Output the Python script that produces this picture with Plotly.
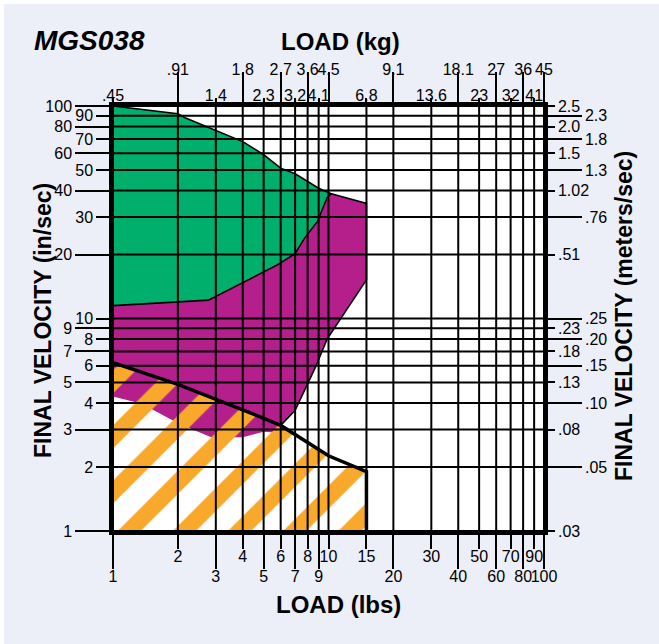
import plotly.graph_objects as go

# ---- tick rows -------------------------------------------------------------
# bottom axis, load in lbs (two staggered rows)
lbs_row_upper = [2, 4, 6, 8, 10, 15, 30, 50, 70, 90]
lbs_row_lower = [1, 3, 5, 7, 9, 20, 40, 60, 80, 100]

# top axis, load in kg (two staggered rows, positioned at the lbs values)
kg_row_upper_at = [2, 4, 6, 8, 10, 20, 40, 60, 80, 100]
kg_row_upper_text = [".91", "1.8", "2.7", "3.6", "4.5", "9.1", "18.1", "27", "36", "45"]
kg_row_lower_at = [1, 3, 5, 7, 9, 15, 30, 50, 70, 90]
kg_row_lower_text = [".45", "1.4", "2.3", "3.2", "4.1", "6.8", "13.6", "23", "32", "41"]

# left axis, velocity in in/sec
ins_long = [1, 3, 5, 7, 9, 20, 40, 60, 80, 100]
ins_short = [2, 4, 6, 8, 10, 30, 50, 70, 90]

# right axis, velocity in meters/sec (positioned at the in/sec values)
ms_short_at = [1, 3, 5, 7, 9, 20, 40, 60, 80, 100]
ms_short_text = [".03", ".08", ".13", ".18", ".23", ".51", "1.02", "1.5", "2.0", "2.5"]
ms_long_at = [2, 4, 6, 8, 10, 30, 50, 70, 90]
ms_long_text = [".05", ".10", ".15", ".20", ".25", ".76", "1.3", "1.8", "2.3"]

# ---- regions (load lbs, velocity in/sec) -----------------------------------
green_top_x = [1, 2, 2.16, 3, 4, 5, 6, 7, 9, 10.3]
green_top_y = [100, 92, 88, 77, 68, 59, 51, 48, 41, 38.6]
green_bottom_x = [10.3, 9.85, 8.9, 7.7, 7, 5.8, 2.77, 2, 1]
green_bottom_y = [38.6, 37, 28.7, 23.7, 20.2, 17.9, 12.2, 12.0, 11.5]

purple_right_x = [10.3, 15, 15, 9.85, 8.7, 7.7, 7, 6]
purple_right_y = [38.6, 34.8, 15.2, 8, 5.9, 4.5, 3.7, 3.14]
purple_bottom_x = [6, 5.8, 5, 4, 2.86, 2.34, 1.84, 1.36, 1]
purple_bottom_y = [3.14, 2.9, 2.93, 2.76, 2.76, 3.0, 3.37, 3.97, 4.3]

limit_x = [1, 2, 4, 6, 10, 15, 15]
limit_y = [6.2, 4.9, 3.72, 3.14, 2.26, 1.9, 1]

GREEN = "#00AF6C"
PURPLE = "#B41F8C"
ORANGE = "#F8A82A"
PANEL = "#ECEEF8"

TICK_FONT = dict(family="Liberation Sans Narrow, Liberation Sans, Arial, sans-serif",
                 size=16, color="black")
TITLE_FAMILY = "Liberation Sans, Arial, Helvetica, sans-serif"

fig = go.Figure()

# purple band (green lower edge, right edge, lower edge)
px_ = green_bottom_x[::-1] + purple_right_x[1:] + purple_bottom_x[1:]
py_ = green_bottom_y[::-1] + purple_right_y[1:] + purple_bottom_y[1:]
fig.add_trace(go.Scatter(x=px_, y=py_, fill="toself", fillcolor=PURPLE, mode="lines",
                         line=dict(width=0), hoverinfo="skip", showlegend=False))

# green band
gx = green_top_x + green_bottom_x[1:]
gy = green_top_y + green_bottom_y[1:]
fig.add_trace(go.Scatter(x=gx, y=gy, fill="toself", fillcolor=GREEN, mode="lines",
                         line=dict(width=0), hoverinfo="skip", showlegend=False))

# hatched band under the limit line
hx = [1] + limit_x + [1]
hy = [1] + limit_y + [1]
fig.add_trace(go.Scatter(x=hx, y=hy, fill="toself", fillcolor="rgba(0,0,0,0)", mode="lines",
                         line=dict(width=0),
                         fillpattern=dict(shape="/", fgcolor=ORANGE, bgcolor="rgba(0,0,0,0)",
                                          size=39, solidity=0.42, fillmode="replace"),
                         hoverinfo="skip", showlegend=False))

# grid drawn over the bands
grid_x_vals = sorted(set(lbs_row_upper + lbs_row_lower))
grid_y_vals = sorted(set(ins_long + ins_short))
gxs, gys = [], []
for v in grid_x_vals:
    gxs += [v, v, None]
    gys += [1, 100, None]
for v in grid_y_vals:
    gxs += [1, 100, None]
    gys += [v, v, None]
fig.add_trace(go.Scatter(x=gxs, y=gys, mode="lines", line=dict(color="black", width=2),
                         hoverinfo="skip", showlegend=False))

# outlines of the bands
fig.add_trace(go.Scatter(x=gx, y=gy, mode="lines", line=dict(color="black", width=1.6),
                         hoverinfo="skip", showlegend=False))
fig.add_trace(go.Scatter(x=purple_right_x, y=purple_right_y, mode="lines",
                         line=dict(color="black", width=1.6), hoverinfo="skip", showlegend=False))
fig.add_trace(go.Scatter(x=limit_x, y=limit_y, mode="lines", line=dict(color="black", width=3.5),
                         hoverinfo="skip", showlegend=False))

# invisible anchors so each overlaid axis gets drawn
for xa, ya in [("x2", "y"), ("x3", "y"), ("x4", "y"), ("x", "y2"), ("x", "y3"), ("x", "y4")]:
    fig.add_trace(go.Scatter(x=[1], y=[1], xaxis=xa, yaxis=ya, mode="markers",
                             marker=dict(opacity=0), hoverinfo="skip", showlegend=False))


def axis(vals, text, ticklen, standoff=0, **kw):
    d = dict(type="log", range=[0, 2], autorange=False, showgrid=False, zeroline=False,
             ticks="outside", ticklen=ticklen, tickwidth=2, tickcolor="black",
             tickvals=vals, ticktext=text, tickfont=TICK_FONT, tickangle=0,
             ticklabelstandoff=standoff,
             showline=True, linewidth=3.5, linecolor="black", layer="above traces")
    d.update(kw)
    return d


def title(text, x, y, size, angle=0):
    return dict(text=text, xref="paper", yref="paper", x=x, y=y, xanchor="center",
                yanchor="middle", textangle=angle, showarrow=False,
                font=dict(family=TITLE_FAMILY, size=size, color="black"))


fig.update_layout(
    width=659, height=644,
    margin=dict(l=113, r=115, t=106, b=113),
    paper_bgcolor=PANEL, plot_bgcolor="white",
    xaxis=axis(lbs_row_upper, [str(v) for v in lbs_row_upper], 14, -6, side="bottom", mirror=True),
    xaxis2=axis(lbs_row_lower, [str(v) for v in lbs_row_lower], 34, -6, side="bottom",
                overlaying="x", anchor="y"),
    xaxis3=axis(kg_row_upper_at, kg_row_upper_text, 30, -9, side="top", overlaying="x", anchor="y"),
    xaxis4=axis(kg_row_lower_at, kg_row_lower_text, 4, -9, side="top", overlaying="x", anchor="y"),
    yaxis=axis(ins_long, [str(v) for v in ins_long], 34, side="left", mirror=True),
    yaxis2=axis(ins_short, [str(v) for v in ins_short], 13, side="left", overlaying="y", anchor="x"),
    yaxis3=axis(ms_short_at, ms_short_text, 7, side="right", overlaying="y", anchor="x"),
    yaxis4=axis(ms_long_at, ms_long_text, 34, side="right", overlaying="y", anchor="x"),
    shapes=[
        dict(type="rect", xref="paper", yref="paper", x0=-0.3, x1=1.3, y0=(531 - 4) / 425,
             y1=1.3, fillcolor="white", line=dict(width=0), layer="below"),
        dict(type="rect", xref="paper", yref="paper", x0=-0.3, x1=(4 - 113) / 431,
             y0=-0.3, y1=1.3, fillcolor="white", line=dict(width=0), layer="below"),
    ],
    annotations=[
        title("<b><i>MGS038</i></b>", (89 - 113) / 431, (531 - 40) / 425, 28),
        title("<b>LOAD (kg)</b>", (340 - 113) / 431, (531 - 41) / 425, 24),
        title("<b>LOAD (lbs)</b>", (338 - 113) / 431, (531 - 604) / 425, 24),
        title("<b>FINAL VELOCITY (in/sec)</b>", (43 - 113) / 431, (531 - 321) / 425, 23, -90),
        title("<b>FINAL VELOCITY (meters/sec)</b>", (624 - 113) / 431, (531 - 316) / 425, 23, -90),
    ],
)

fig.write_html("out.html")
